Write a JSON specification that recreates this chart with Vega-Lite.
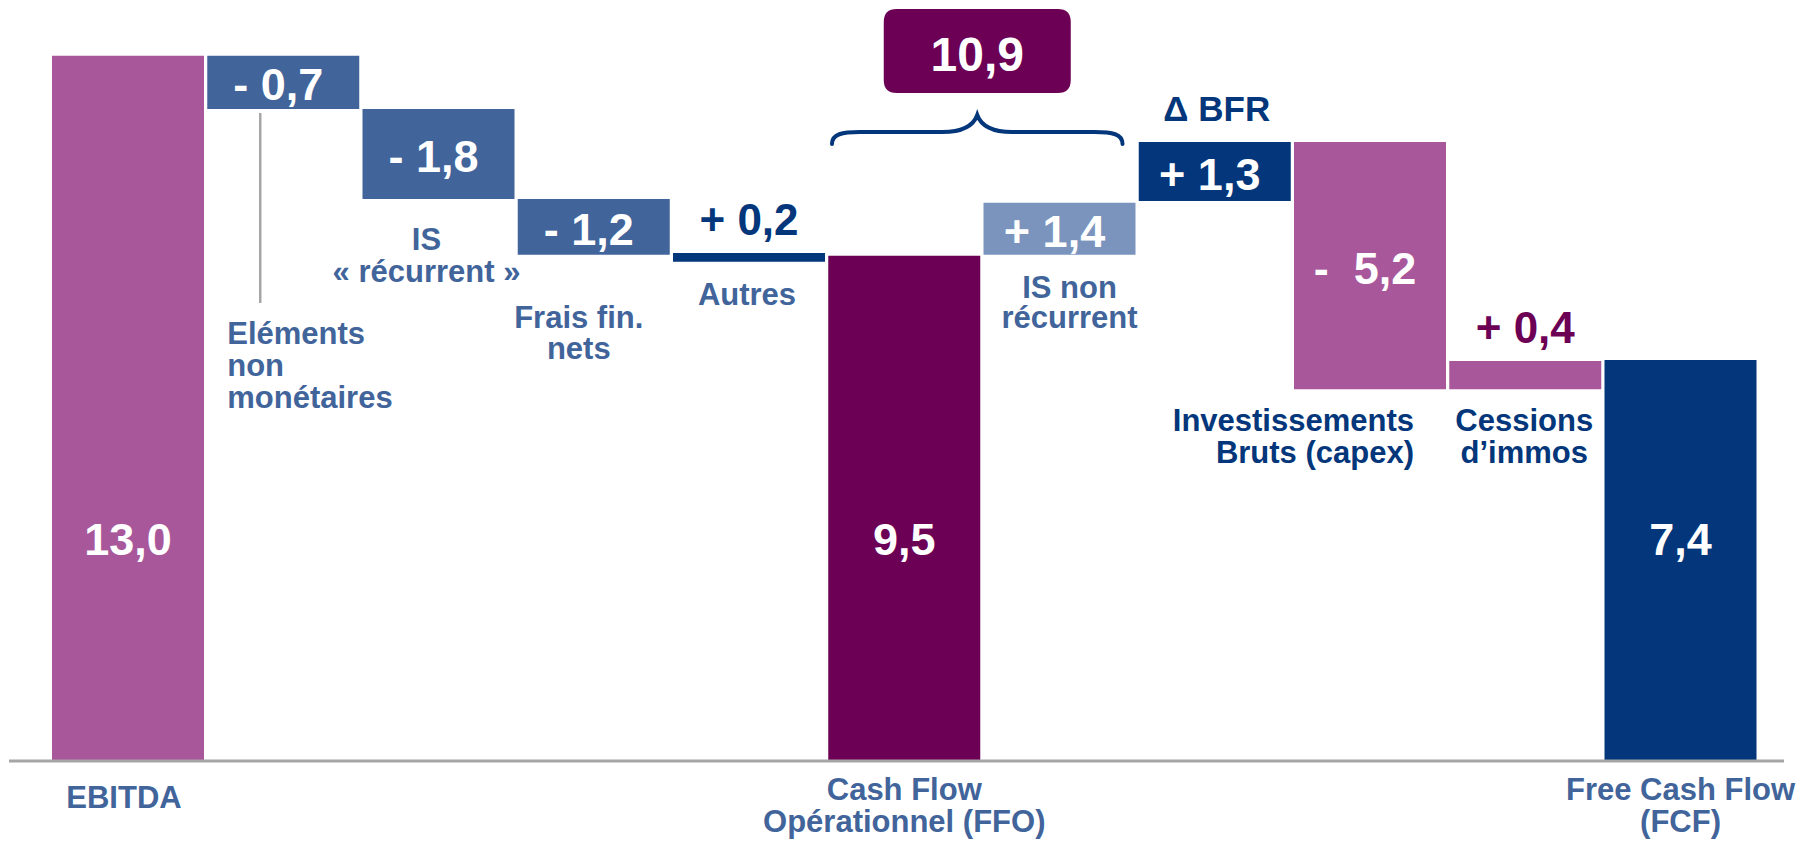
{
  "$schema": "https://vega.github.io/schema/vega-lite/v6.json",
  "width": 1775,
  "height": 761,
  "autosize": {"type": "none"},
  "padding": {"left": 9, "right": 23, "top": 0, "bottom": 81},
  "background": "white",
  "config": {"view": {"stroke": null}, "font": "Liberation Sans"},
  "data": {
    "values": [
      {"cat": "EBITDA", "label": "EBITDA", "value": 13.0, "valueLabel": "13,0", "start": 0, "end": 13.01},
      {"cat": "Eléments non monétaires", "label": "Eléments\nnon\nmonétaires", "value": -0.7, "valueLabel": "- 0,7", "start": 13.01, "end": 12.03},
      {"cat": "IS « récurrent »", "label": "IS\n« récurrent »", "value": -1.8, "valueLabel": "- 1,8", "start": 12.03, "end": 10.37},
      {"cat": "Frais fin. nets", "label": "Frais fin.\nnets", "value": -1.2, "valueLabel": "- 1,2", "start": 10.37, "end": 9.34},
      {"cat": "Autres", "label": "Autres", "value": 0.2, "valueLabel": "+ 0,2", "start": 9.21, "end": 9.37},
      {"cat": "Cash Flow Opérationnel (FFO)", "label": "Cash Flow\nOpérationnel (FFO)", "value": 9.5, "valueLabel": "9,5", "start": 0, "end": 9.32},
      {"cat": "IS non récurrent", "label": "IS non\nrécurrent", "value": 1.4, "valueLabel": "+ 1,4", "start": 9.34, "end": 10.30},
      {"cat": "Δ BFR", "label": "Δ BFR", "value": 1.3, "valueLabel": "+ 1,3", "start": 10.33, "end": 11.42},
      {"cat": "Investissements Bruts (capex)", "label": "Investissements\nBruts (capex)", "value": -5.2, "valueLabel": "- \u00a05,2", "start": 11.42, "end": 6.86},
      {"cat": "Cessions d’immos", "label": "Cessions\nd’immos", "value": 0.4, "valueLabel": "+ 0,4", "start": 6.86, "end": 7.38},
      {"cat": "Free Cash Flow (FCF)", "label": "Free Cash Flow\n(FCF)", "value": 7.4, "valueLabel": "7,4", "start": 0, "end": 7.40}
    ]
  },
  "layer": [
    {
      "mark": {"type": "bar"},
      "encoding": {
        "x": {
          "field": "cat", "type": "nominal", "sort": null, "axis": null,
          "scale": {
            "type": "band",
            "domain": ["EBITDA", "Eléments non monétaires", "IS « récurrent »", "Frais fin. nets", "Autres", "Cash Flow Opérationnel (FFO)", "IS non récurrent", "Δ BFR", "Investissements Bruts (capex)", "Cessions d’immos", "Free Cash Flow (FCF)"],
            "paddingInner": 0.0209, "paddingOuter": 0.227, "align": 0.61, "round": false
          }
        },
        "y": {"field": "start", "type": "quantitative", "axis": null, "scale": {"domain": [0, 14.04], "nice": false, "zero": false}},
        "y2": {"field": "end"},
        "color": {
          "field": "cat", "type": "nominal", "legend": null,
          "scale": {
            "domain": ["EBITDA", "Eléments non monétaires", "IS « récurrent »", "Frais fin. nets", "Autres", "Cash Flow Opérationnel (FFO)", "IS non récurrent", "Δ BFR", "Investissements Bruts (capex)", "Cessions d’immos", "Free Cash Flow (FCF)"],
            "range": ["#A8579A", "#41649B", "#41649B", "#41649B", "#03367A", "#6C0055", "#7A94BE", "#03367A", "#A8579A", "#A8579A", "#03367A"]
          }
        }
      }
    },
    {
      "data": {"values": [{}]},
      "mark": {"type": "rule", "color": "#A6A6A6", "strokeWidth": 3},
      "encoding": {"y": {"datum": 0}}
    },
    {
      "data": {"values": [{}]},
      "mark": {"type": "rule", "color": "#A6A6A6", "strokeWidth": 2.5, "xOffset": -23},
      "encoding": {"x": {"datum": "Eléments non monétaires"}, "y": {"datum": 11.956}, "y2": {"datum": 8.45}}
    },
    {
      "transform": [
        {"filter": {"field": "cat", "oneOf": ["Eléments non monétaires", "IS « récurrent »", "Frais fin. nets", "IS non récurrent", "Δ BFR", "Investissements Bruts (capex)"]}},
        {"fold": ["start", "end"], "as": ["edge", "v"]}
      ],
      "mark": {"type": "text", "fontSize": 45, "fontWeight": "bold", "color": "white", "align": "center", "baseline": "middle", "dy": 4, "xOffset": -5},
      "encoding": {
        "x": {"field": "cat", "type": "nominal"},
        "y": {"aggregate": "mean", "field": "v", "type": "quantitative"},
        "text": {"field": "valueLabel", "type": "nominal"}
      }
    },
    {
      "transform": [{"filter": {"field": "cat", "oneOf": ["EBITDA", "Cash Flow Opérationnel (FFO)", "Free Cash Flow (FCF)"]}}],
      "mark": {"type": "text", "fontSize": 45, "fontWeight": "bold", "color": "white", "align": "center", "baseline": "alphabetic"},
      "encoding": {
        "x": {"field": "cat", "type": "nominal"},
        "y": {"datum": 3.801},
        "text": {"field": "valueLabel", "type": "nominal"}
      }
    },
    {
      "transform": [{"filter": {"field": "cat", "oneOf": ["Autres", "Cessions d’immos"]}}],
      "mark": {"type": "text", "fontSize": 44, "fontWeight": "bold", "align": "center", "baseline": "alphabetic", "dy": -18},
      "encoding": {
        "x": {"field": "cat", "type": "nominal"},
        "y": {"field": "end", "type": "quantitative"},
        "text": {"field": "valueLabel", "type": "nominal"},
        "color": {"condition": {"test": "datum.cat === 'Autres'", "value": "#03367A"}, "value": "#6C0055"}
      }
    },
    {
      "data": {"values": [{"label": "10,9", "value": 10.9}]},
      "mark": {"type": "point", "shape": "M -0.861 -0.449 L 0.861 -0.449 Q 1 -0.449 1 -0.31 L 1 0.31 Q 1 0.449 0.861 0.449 L -0.861 0.449 Q -1 0.449 -1 0.31 L -1 -0.31 Q -1 -0.449 -0.861 -0.449 Z", "size": 34969, "filled": true, "color": "#6C0055", "opacity": 1, "strokeWidth": 0, "xOffset": 73},
      "encoding": {"x": {"datum": "Cash Flow Opérationnel (FFO)"}, "y": {"datum": 13.1}}
    },
    {
      "data": {"values": [{"label": "10,9", "value": 10.9}]},
      "mark": {"type": "text", "fontSize": 48, "fontWeight": "bold", "color": "white", "align": "center", "baseline": "alphabetic", "xOffset": 73},
      "encoding": {"x": {"datum": "Cash Flow Opérationnel (FFO)"}, "y": {"datum": 12.731}, "text": {"field": "label", "type": "nominal"}}
    },
    {
      "data": {"values": [{}]},
      "mark": {"type": "point", "shape": "M -1 0.083 C -1 0.014 -0.93 0 -0.806 0 L -0.241 0 C -0.138 0 -0.034 -0.021 0 -0.117 C 0.034 -0.021 0.138 0 0.241 0 L 0.806 0 C 0.93 0 1 0.014 1 0.083", "size": 84390, "filled": false, "color": "#03367A", "opacity": 1, "strokeWidth": 4, "strokeCap": "round", "xOffset": 73},
      "encoding": {"x": {"datum": "Cash Flow Opérationnel (FFO)"}, "y": {"datum": 11.605}}
    },
    {
      "transform": [{"filter": {"field": "cat", "equal": "EBITDA"}}],
      "mark": {"type": "text", "fontSize": 31, "fontWeight": "bold", "color": "#41649B", "align": "center", "baseline": "alphabetic", "xOffset": -4},
      "encoding": {"x": {"field": "cat", "type": "nominal"}, "y": {"datum": -0.867}, "text": {"field": "label", "type": "nominal"}}
    },
    {
      "transform": [{"filter": {"field": "cat", "oneOf": ["Cash Flow Opérationnel (FFO)", "Free Cash Flow (FCF)"]}}],
      "mark": {"type": "text", "fontSize": 31, "fontWeight": "bold", "color": "#41649B", "align": "center", "baseline": "alphabetic", "lineBreak": "\n", "lineHeight": 32},
      "encoding": {"x": {"field": "cat", "type": "nominal"}, "y": {"datum": -0.72}, "text": {"field": "label", "type": "nominal"}}
    },
    {
      "transform": [{"filter": {"field": "cat", "equal": "Eléments non monétaires"}}],
      "mark": {"type": "text", "fontSize": 31, "fontWeight": "bold", "color": "#41649B", "align": "left", "baseline": "alphabetic", "lineBreak": "\n", "lineHeight": 32, "xOffset": -56},
      "encoding": {"x": {"field": "cat", "type": "nominal"}, "y": {"datum": 7.694}, "text": {"field": "label", "type": "nominal"}}
    },
    {
      "transform": [{"filter": {"field": "cat", "equal": "IS « récurrent »"}}],
      "mark": {"type": "text", "fontSize": 31, "fontWeight": "bold", "color": "#41649B", "align": "center", "baseline": "alphabetic", "lineBreak": "\n", "lineHeight": 32, "xOffset": -12},
      "encoding": {"x": {"field": "cat", "type": "nominal"}, "y": {"datum": 9.428}, "text": {"field": "label", "type": "nominal"}}
    },
    {
      "transform": [{"filter": {"field": "cat", "equal": "Frais fin. nets"}}],
      "mark": {"type": "text", "fontSize": 31, "fontWeight": "bold", "color": "#41649B", "align": "center", "baseline": "alphabetic", "lineBreak": "\n", "lineHeight": 31, "xOffset": -15},
      "encoding": {"x": {"field": "cat", "type": "nominal"}, "y": {"datum": 7.989}, "text": {"field": "label", "type": "nominal"}}
    },
    {
      "transform": [{"filter": {"field": "cat", "equal": "Autres"}}],
      "mark": {"type": "text", "fontSize": 31, "fontWeight": "bold", "color": "#41649B", "align": "center", "baseline": "alphabetic", "xOffset": -2},
      "encoding": {"x": {"field": "cat", "type": "nominal"}, "y": {"datum": 8.413}, "text": {"field": "label", "type": "nominal"}}
    },
    {
      "transform": [{"filter": {"field": "cat", "equal": "IS non récurrent"}}],
      "mark": {"type": "text", "fontSize": 31, "fontWeight": "bold", "color": "#41649B", "align": "center", "baseline": "alphabetic", "lineBreak": "\n", "lineHeight": 30, "xOffset": 10},
      "encoding": {"x": {"field": "cat", "type": "nominal"}, "y": {"datum": 8.542}, "text": {"field": "label", "type": "nominal"}}
    },
    {
      "transform": [{"filter": {"field": "cat", "equal": "Δ BFR"}}],
      "mark": {"type": "text", "fontSize": 35, "fontWeight": "bold", "color": "#03367A", "align": "center", "baseline": "alphabetic", "xOffset": 2},
      "encoding": {"x": {"field": "cat", "type": "nominal"}, "y": {"datum": 11.808}, "text": {"field": "label", "type": "nominal"}}
    },
    {
      "transform": [{"filter": {"field": "cat", "equal": "Investissements Bruts (capex)"}}],
      "mark": {"type": "text", "fontSize": 31, "fontWeight": "bold", "color": "#03367A", "align": "right", "baseline": "alphabetic", "lineBreak": "\n", "lineHeight": 32, "xOffset": 44},
      "encoding": {"x": {"field": "cat", "type": "nominal"}, "y": {"datum": 6.089}, "text": {"field": "label", "type": "nominal"}}
    },
    {
      "transform": [{"filter": {"field": "cat", "equal": "Cessions d’immos"}}],
      "mark": {"type": "text", "fontSize": 31, "fontWeight": "bold", "color": "#03367A", "align": "center", "baseline": "alphabetic", "lineBreak": "\n", "lineHeight": 32, "xOffset": -1},
      "encoding": {"x": {"field": "cat", "type": "nominal"}, "y": {"datum": 6.089}, "text": {"field": "label", "type": "nominal"}}
    }
  ]
}
